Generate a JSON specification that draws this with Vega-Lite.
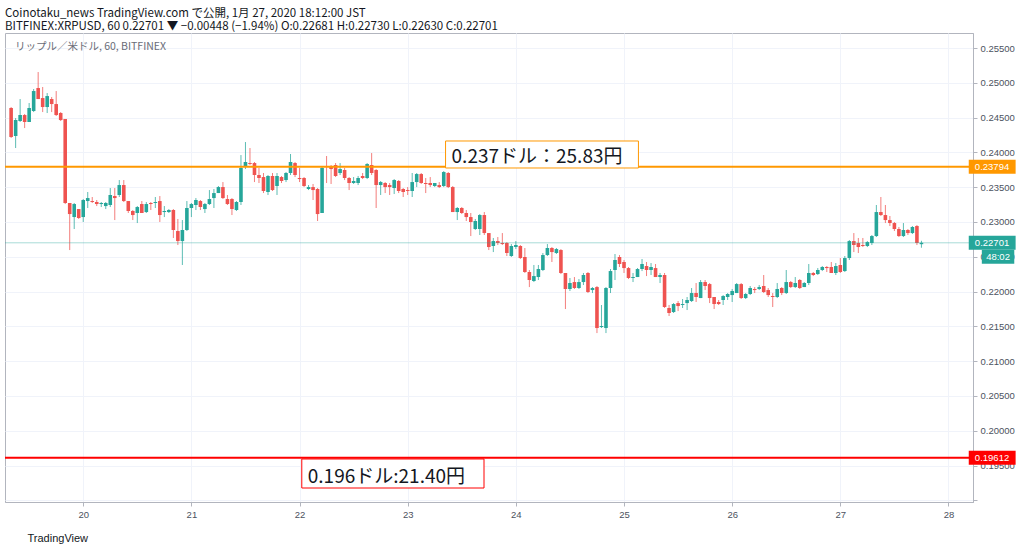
{
  "$schema": "https://vega.github.io/schema/vega-lite/v6.json",
  "width": 968,
  "height": 469,
  "autosize": {"type": "none"},
  "padding": {"left": 5, "top": 33, "right": 51, "bottom": 50},
  "background": "#ffffff",
  "title": {
    "text": "Coinotaku_news TradingView.com で公開, 1月 27, 2020 18:12:00 JST",
    "subtitle": "BITFINEX:XRPUSD, 60 0.22701 ▼ −0.00448 (−1.94%) O:0.22681 H:0.22730 L:0.22630 C:0.22701",
    "anchor": "start",
    "frame": "group",
    "font": "Noto Sans CJK JP",
    "fontSize": 11.5,
    "fontWeight": "normal",
    "color": "#131722",
    "subtitleFont": "Noto Sans CJK JP",
    "subtitleFontSize": 11.5,
    "subtitleColor": "#131722",
    "subtitlePadding": 1,
    "offset": 1
  },
  "datasets": {
    "candles": [
      {"t":"2020-01-19T08:00","o":0.24638,"h":0.24652,"l":0.24207,"c":0.24221},
      {"t":"2020-01-19T09:00","o":0.24235,"h":0.24494,"l":0.24063,"c":0.24465},
      {"t":"2020-01-19T10:00","o":0.24451,"h":0.24767,"l":0.24437,"c":0.24537},
      {"t":"2020-01-19T11:00","o":0.24537,"h":0.24552,"l":0.24350,"c":0.24437},
      {"t":"2020-01-19T12:00","o":0.24437,"h":0.24710,"l":0.24437,"c":0.24638},
      {"t":"2020-01-19T13:00","o":0.24595,"h":0.24911,"l":0.24580,"c":0.24882},
      {"t":"2020-01-19T14:00","o":0.24925,"h":0.25155,"l":0.24767,"c":0.24767},
      {"t":"2020-01-19T15:00","o":0.24781,"h":0.24940,"l":0.24580,"c":0.24652},
      {"t":"2020-01-19T16:00","o":0.24652,"h":0.24853,"l":0.24566,"c":0.24810},
      {"t":"2020-01-19T17:00","o":0.24767,"h":0.24796,"l":0.24580,"c":0.24695},
      {"t":"2020-01-19T18:00","o":0.24695,"h":0.24882,"l":0.24523,"c":0.24537},
      {"t":"2020-01-19T19:00","o":0.24566,"h":0.24580,"l":0.24451,"c":0.24465},
      {"t":"2020-01-19T20:00","o":0.24480,"h":0.24480,"l":0.23258,"c":0.23273},
      {"t":"2020-01-19T21:00","o":0.23273,"h":0.23273,"l":0.22597,"c":0.23114},
      {"t":"2020-01-19T22:00","o":0.23071,"h":0.23273,"l":0.22899,"c":0.23258},
      {"t":"2020-01-19T23:00","o":0.23186,"h":0.23186,"l":0.23043,"c":0.23057},
      {"t":"2020-01-20T00:00","o":0.23071,"h":0.23330,"l":0.23000,"c":0.23316},
      {"t":"2020-01-20T01:00","o":0.23301,"h":0.23431,"l":0.23201,"c":0.23344},
      {"t":"2020-01-20T02:00","o":0.23301,"h":0.23359,"l":0.23273,"c":0.23287},
      {"t":"2020-01-20T03:00","o":0.23287,"h":0.23316,"l":0.23229,"c":0.23258},
      {"t":"2020-01-20T04:00","o":0.23258,"h":0.23287,"l":0.23215,"c":0.23273},
      {"t":"2020-01-20T05:00","o":0.23229,"h":0.23287,"l":0.23186,"c":0.23273},
      {"t":"2020-01-20T06:00","o":0.23244,"h":0.23488,"l":0.23215,"c":0.23388},
      {"t":"2020-01-20T07:00","o":0.23373,"h":0.23488,"l":0.23028,"c":0.23344},
      {"t":"2020-01-20T08:00","o":0.23388,"h":0.23603,"l":0.23359,"c":0.23531},
      {"t":"2020-01-20T09:00","o":0.23531,"h":0.23603,"l":0.23287,"c":0.23301},
      {"t":"2020-01-20T10:00","o":0.23301,"h":0.23301,"l":0.23129,"c":0.23158},
      {"t":"2020-01-20T11:00","o":0.23158,"h":0.23172,"l":0.23028,"c":0.23100},
      {"t":"2020-01-20T12:00","o":0.23129,"h":0.23229,"l":0.22985,"c":0.23215},
      {"t":"2020-01-20T13:00","o":0.23258,"h":0.23301,"l":0.23129,"c":0.23129},
      {"t":"2020-01-20T14:00","o":0.23143,"h":0.23287,"l":0.23129,"c":0.23258},
      {"t":"2020-01-20T15:00","o":0.23273,"h":0.23287,"l":0.23172,"c":0.23258},
      {"t":"2020-01-20T16:00","o":0.23273,"h":0.23359,"l":0.23201,"c":0.23287},
      {"t":"2020-01-20T17:00","o":0.23301,"h":0.23373,"l":0.23000,"c":0.23100},
      {"t":"2020-01-20T18:00","o":0.23143,"h":0.23229,"l":0.23071,"c":0.23158},
      {"t":"2020-01-20T19:00","o":0.23143,"h":0.23186,"l":0.23129,"c":0.23172},
      {"t":"2020-01-20T20:00","o":0.23172,"h":0.23186,"l":0.22770,"c":0.22885},
      {"t":"2020-01-20T21:00","o":0.22870,"h":0.23043,"l":0.22669,"c":0.22726},
      {"t":"2020-01-20T22:00","o":0.22726,"h":0.23028,"l":0.22382,"c":0.22885},
      {"t":"2020-01-20T23:00","o":0.22885,"h":0.23301,"l":0.22870,"c":0.23201},
      {"t":"2020-01-21T00:00","o":0.23201,"h":0.23273,"l":0.23071,"c":0.23258},
      {"t":"2020-01-21T01:00","o":0.23244,"h":0.23344,"l":0.23172,"c":0.23316},
      {"t":"2020-01-21T02:00","o":0.23301,"h":0.23316,"l":0.23172,"c":0.23215},
      {"t":"2020-01-21T03:00","o":0.23186,"h":0.23273,"l":0.23129,"c":0.23258},
      {"t":"2020-01-21T04:00","o":0.23258,"h":0.23459,"l":0.23244,"c":0.23330},
      {"t":"2020-01-21T05:00","o":0.23344,"h":0.23474,"l":0.23201,"c":0.23416},
      {"t":"2020-01-21T06:00","o":0.23416,"h":0.23517,"l":0.23416,"c":0.23502},
      {"t":"2020-01-21T07:00","o":0.23502,"h":0.23574,"l":0.23330,"c":0.23344},
      {"t":"2020-01-21T08:00","o":0.23330,"h":0.23388,"l":0.23244,"c":0.23258},
      {"t":"2020-01-21T09:00","o":0.23330,"h":0.23344,"l":0.23100,"c":0.23186},
      {"t":"2020-01-21T10:00","o":0.23172,"h":0.23301,"l":0.23158,"c":0.23287},
      {"t":"2020-01-21T11:00","o":0.23287,"h":0.23962,"l":0.23244,"c":0.23776},
      {"t":"2020-01-21T12:00","o":0.23804,"h":0.24149,"l":0.23761,"c":0.23862},
      {"t":"2020-01-21T13:00","o":0.23847,"h":0.24063,"l":0.23819,"c":0.23833},
      {"t":"2020-01-21T14:00","o":0.23847,"h":0.23862,"l":0.23574,"c":0.23675},
      {"t":"2020-01-21T15:00","o":0.23675,"h":0.23776,"l":0.23560,"c":0.23632},
      {"t":"2020-01-21T16:00","o":0.23646,"h":0.23704,"l":0.23416,"c":0.23445},
      {"t":"2020-01-21T17:00","o":0.23431,"h":0.23675,"l":0.23388,"c":0.23661},
      {"t":"2020-01-21T18:00","o":0.23661,"h":0.23704,"l":0.23445,"c":0.23459},
      {"t":"2020-01-21T19:00","o":0.23517,"h":0.23704,"l":0.23388,"c":0.23661},
      {"t":"2020-01-21T20:00","o":0.23646,"h":0.23661,"l":0.23560,"c":0.23589},
      {"t":"2020-01-21T21:00","o":0.23603,"h":0.23718,"l":0.23574,"c":0.23704},
      {"t":"2020-01-21T22:00","o":0.23704,"h":0.23977,"l":0.23675,"c":0.23862},
      {"t":"2020-01-21T23:00","o":0.23847,"h":0.23862,"l":0.23646,"c":0.23675},
      {"t":"2020-01-22T00:00","o":0.23632,"h":0.23776,"l":0.23574,"c":0.23617},
      {"t":"2020-01-22T01:00","o":0.23632,"h":0.23646,"l":0.23502,"c":0.23517},
      {"t":"2020-01-22T02:00","o":0.23474,"h":0.23531,"l":0.23459,"c":0.23502},
      {"t":"2020-01-22T03:00","o":0.23502,"h":0.23546,"l":0.23316,"c":0.23459},
      {"t":"2020-01-22T04:00","o":0.23474,"h":0.23488,"l":0.23014,"c":0.23114},
      {"t":"2020-01-22T05:00","o":0.23129,"h":0.23790,"l":0.23129,"c":0.23776},
      {"t":"2020-01-22T06:00","o":0.23804,"h":0.23948,"l":0.23560,"c":0.23790},
      {"t":"2020-01-22T07:00","o":0.23790,"h":0.23819,"l":0.23546,"c":0.23761},
      {"t":"2020-01-22T08:00","o":0.23819,"h":0.23847,"l":0.23646,"c":0.23661},
      {"t":"2020-01-22T09:00","o":0.23704,"h":0.23847,"l":0.23675,"c":0.23761},
      {"t":"2020-01-22T10:00","o":0.23747,"h":0.23776,"l":0.23603,"c":0.23632},
      {"t":"2020-01-22T11:00","o":0.23632,"h":0.23646,"l":0.23459,"c":0.23560},
      {"t":"2020-01-22T12:00","o":0.23560,"h":0.23646,"l":0.23546,"c":0.23589},
      {"t":"2020-01-22T13:00","o":0.23560,"h":0.23661,"l":0.23531,"c":0.23632},
      {"t":"2020-01-22T14:00","o":0.23661,"h":0.23704,"l":0.23617,"c":0.23632},
      {"t":"2020-01-22T15:00","o":0.23632,"h":0.23847,"l":0.23617,"c":0.23833},
      {"t":"2020-01-22T16:00","o":0.23819,"h":0.23991,"l":0.23675,"c":0.23704},
      {"t":"2020-01-22T17:00","o":0.23747,"h":0.23761,"l":0.23201,"c":0.23531},
      {"t":"2020-01-22T18:00","o":0.23531,"h":0.23589,"l":0.23388,"c":0.23574},
      {"t":"2020-01-22T19:00","o":0.23560,"h":0.23574,"l":0.23416,"c":0.23502},
      {"t":"2020-01-22T20:00","o":0.23531,"h":0.23560,"l":0.23388,"c":0.23502},
      {"t":"2020-01-22T21:00","o":0.23488,"h":0.23617,"l":0.23402,"c":0.23603},
      {"t":"2020-01-22T22:00","o":0.23589,"h":0.23603,"l":0.23416,"c":0.23445},
      {"t":"2020-01-22T23:00","o":0.23474,"h":0.23488,"l":0.23359,"c":0.23431},
      {"t":"2020-01-23T00:00","o":0.23459,"h":0.23502,"l":0.23388,"c":0.23445},
      {"t":"2020-01-23T01:00","o":0.23445,"h":0.23704,"l":0.23359,"c":0.23574},
      {"t":"2020-01-23T02:00","o":0.23574,"h":0.23704,"l":0.23502,"c":0.23689},
      {"t":"2020-01-23T03:00","o":0.23689,"h":0.23704,"l":0.23546,"c":0.23560},
      {"t":"2020-01-23T04:00","o":0.23560,"h":0.23632,"l":0.23416,"c":0.23546},
      {"t":"2020-01-23T05:00","o":0.23560,"h":0.23646,"l":0.23502,"c":0.23531},
      {"t":"2020-01-23T06:00","o":0.23517,"h":0.23560,"l":0.23502,"c":0.23560},
      {"t":"2020-01-23T07:00","o":0.23531,"h":0.23574,"l":0.23488,"c":0.23502},
      {"t":"2020-01-23T08:00","o":0.23517,"h":0.23732,"l":0.23502,"c":0.23718},
      {"t":"2020-01-23T09:00","o":0.23704,"h":0.23718,"l":0.23488,"c":0.23502},
      {"t":"2020-01-23T10:00","o":0.23502,"h":0.23517,"l":0.23143,"c":0.23143},
      {"t":"2020-01-23T11:00","o":0.23143,"h":0.23215,"l":0.23028,"c":0.23201},
      {"t":"2020-01-23T12:00","o":0.23201,"h":0.23215,"l":0.23114,"c":0.23129},
      {"t":"2020-01-23T13:00","o":0.23129,"h":0.23172,"l":0.23014,"c":0.23071},
      {"t":"2020-01-23T14:00","o":0.23071,"h":0.23129,"l":0.22798,"c":0.23000},
      {"t":"2020-01-23T15:00","o":0.22899,"h":0.23043,"l":0.22885,"c":0.23014},
      {"t":"2020-01-23T16:00","o":0.22899,"h":0.23114,"l":0.22813,"c":0.23100},
      {"t":"2020-01-23T17:00","o":0.23100,"h":0.23143,"l":0.22813,"c":0.22841},
      {"t":"2020-01-23T18:00","o":0.22841,"h":0.22841,"l":0.22597,"c":0.22640},
      {"t":"2020-01-23T19:00","o":0.22655,"h":0.22770,"l":0.22568,"c":0.22726},
      {"t":"2020-01-23T20:00","o":0.22726,"h":0.22784,"l":0.22669,"c":0.22698},
      {"t":"2020-01-23T21:00","o":0.22698,"h":0.22841,"l":0.22669,"c":0.22683},
      {"t":"2020-01-23T22:00","o":0.22698,"h":0.22712,"l":0.22511,"c":0.22554},
      {"t":"2020-01-23T23:00","o":0.22511,"h":0.22683,"l":0.22497,"c":0.22655},
      {"t":"2020-01-24T00:00","o":0.22640,"h":0.22726,"l":0.22611,"c":0.22669},
      {"t":"2020-01-24T01:00","o":0.22655,"h":0.22669,"l":0.22468,"c":0.22482},
      {"t":"2020-01-24T02:00","o":0.22497,"h":0.22626,"l":0.22267,"c":0.22281},
      {"t":"2020-01-24T03:00","o":0.22281,"h":0.22310,"l":0.22065,"c":0.22166},
      {"t":"2020-01-24T04:00","o":0.22152,"h":0.22382,"l":0.22137,"c":0.22223},
      {"t":"2020-01-24T05:00","o":0.22209,"h":0.22382,"l":0.22166,"c":0.22324},
      {"t":"2020-01-24T06:00","o":0.22310,"h":0.22554,"l":0.22295,"c":0.22525},
      {"t":"2020-01-24T07:00","o":0.22525,"h":0.22683,"l":0.22511,"c":0.22626},
      {"t":"2020-01-24T08:00","o":0.22626,"h":0.22640,"l":0.22425,"c":0.22568},
      {"t":"2020-01-24T09:00","o":0.22554,"h":0.22626,"l":0.22540,"c":0.22611},
      {"t":"2020-01-24T10:00","o":0.22597,"h":0.22611,"l":0.22252,"c":0.22267},
      {"t":"2020-01-24T11:00","o":0.22267,"h":0.22267,"l":0.21749,"c":0.22037},
      {"t":"2020-01-24T12:00","o":0.22037,"h":0.22195,"l":0.22008,"c":0.22123},
      {"t":"2020-01-24T13:00","o":0.22137,"h":0.22209,"l":0.22037,"c":0.22051},
      {"t":"2020-01-24T14:00","o":0.22051,"h":0.22180,"l":0.22037,"c":0.22137},
      {"t":"2020-01-24T15:00","o":0.22137,"h":0.22267,"l":0.22094,"c":0.22238},
      {"t":"2020-01-24T16:00","o":0.22267,"h":0.22281,"l":0.21979,"c":0.21994},
      {"t":"2020-01-24T17:00","o":0.22022,"h":0.22065,"l":0.21979,"c":0.22051},
      {"t":"2020-01-24T18:00","o":0.22065,"h":0.22080,"l":0.21404,"c":0.21476},
      {"t":"2020-01-24T19:00","o":0.21490,"h":0.21807,"l":0.21476,"c":0.21505},
      {"t":"2020-01-24T20:00","o":0.21476,"h":0.22065,"l":0.21404,"c":0.22051},
      {"t":"2020-01-24T21:00","o":0.22051,"h":0.22324,"l":0.21979,"c":0.22295},
      {"t":"2020-01-24T22:00","o":0.22310,"h":0.22540,"l":0.22166,"c":0.22454},
      {"t":"2020-01-24T23:00","o":0.22497,"h":0.22525,"l":0.22353,"c":0.22396},
      {"t":"2020-01-25T00:00","o":0.22425,"h":0.22454,"l":0.22267,"c":0.22338},
      {"t":"2020-01-25T01:00","o":0.22338,"h":0.22353,"l":0.22180,"c":0.22195},
      {"t":"2020-01-25T02:00","o":0.22195,"h":0.22267,"l":0.22137,"c":0.22209},
      {"t":"2020-01-25T03:00","o":0.22209,"h":0.22338,"l":0.22209,"c":0.22324},
      {"t":"2020-01-25T04:00","o":0.22324,"h":0.22468,"l":0.22295,"c":0.22396},
      {"t":"2020-01-25T05:00","o":0.22367,"h":0.22425,"l":0.22223,"c":0.22310},
      {"t":"2020-01-25T06:00","o":0.22310,"h":0.22410,"l":0.22238,"c":0.22353},
      {"t":"2020-01-25T07:00","o":0.22338,"h":0.22396,"l":0.22209,"c":0.22209},
      {"t":"2020-01-25T08:00","o":0.22209,"h":0.22267,"l":0.22123,"c":0.22238},
      {"t":"2020-01-25T09:00","o":0.22238,"h":0.22267,"l":0.21764,"c":0.21778},
      {"t":"2020-01-25T10:00","o":0.21764,"h":0.21807,"l":0.21649,"c":0.21692},
      {"t":"2020-01-25T11:00","o":0.21706,"h":0.21835,"l":0.21692,"c":0.21821},
      {"t":"2020-01-25T12:00","o":0.21835,"h":0.21864,"l":0.21720,"c":0.21792},
      {"t":"2020-01-25T13:00","o":0.21807,"h":0.21893,"l":0.21764,"c":0.21821},
      {"t":"2020-01-25T14:00","o":0.21835,"h":0.21922,"l":0.21735,"c":0.21879},
      {"t":"2020-01-25T15:00","o":0.21864,"h":0.22051,"l":0.21850,"c":0.21979},
      {"t":"2020-01-25T16:00","o":0.21979,"h":0.22123,"l":0.21850,"c":0.21922},
      {"t":"2020-01-25T17:00","o":0.21907,"h":0.22166,"l":0.21907,"c":0.22137},
      {"t":"2020-01-25T18:00","o":0.22137,"h":0.22166,"l":0.22022,"c":0.22080},
      {"t":"2020-01-25T19:00","o":0.22108,"h":0.22123,"l":0.21835,"c":0.21907},
      {"t":"2020-01-25T20:00","o":0.21922,"h":0.21922,"l":0.21749,"c":0.21821},
      {"t":"2020-01-25T21:00","o":0.21850,"h":0.21879,"l":0.21807,"c":0.21821},
      {"t":"2020-01-25T22:00","o":0.21879,"h":0.21950,"l":0.21807,"c":0.21936},
      {"t":"2020-01-25T23:00","o":0.21922,"h":0.21979,"l":0.21879,"c":0.21965},
      {"t":"2020-01-26T00:00","o":0.21950,"h":0.22037,"l":0.21850,"c":0.22008},
      {"t":"2020-01-26T01:00","o":0.21979,"h":0.22123,"l":0.21979,"c":0.22108},
      {"t":"2020-01-26T02:00","o":0.22108,"h":0.22123,"l":0.21893,"c":0.21907},
      {"t":"2020-01-26T03:00","o":0.21907,"h":0.21979,"l":0.21893,"c":0.21965},
      {"t":"2020-01-26T04:00","o":0.21965,"h":0.22080,"l":0.21950,"c":0.22051},
      {"t":"2020-01-26T05:00","o":0.22037,"h":0.22065,"l":0.21979,"c":0.22022},
      {"t":"2020-01-26T06:00","o":0.22037,"h":0.22094,"l":0.22022,"c":0.22065},
      {"t":"2020-01-26T07:00","o":0.22080,"h":0.22238,"l":0.21979,"c":0.21994},
      {"t":"2020-01-26T08:00","o":0.22022,"h":0.22051,"l":0.21922,"c":0.21950},
      {"t":"2020-01-26T09:00","o":0.21936,"h":0.21979,"l":0.21778,"c":0.21922},
      {"t":"2020-01-26T10:00","o":0.21922,"h":0.22123,"l":0.21907,"c":0.22037},
      {"t":"2020-01-26T11:00","o":0.22051,"h":0.22065,"l":0.21950,"c":0.21979},
      {"t":"2020-01-26T12:00","o":0.21979,"h":0.22310,"l":0.21965,"c":0.22137},
      {"t":"2020-01-26T13:00","o":0.22137,"h":0.22152,"l":0.22051,"c":0.22065},
      {"t":"2020-01-26T14:00","o":0.22065,"h":0.22209,"l":0.22051,"c":0.22123},
      {"t":"2020-01-26T15:00","o":0.22166,"h":0.22180,"l":0.22037,"c":0.22051},
      {"t":"2020-01-26T16:00","o":0.22065,"h":0.22137,"l":0.22065,"c":0.22123},
      {"t":"2020-01-26T17:00","o":0.22123,"h":0.22396,"l":0.22094,"c":0.22267},
      {"t":"2020-01-26T18:00","o":0.22267,"h":0.22281,"l":0.22223,"c":0.22238},
      {"t":"2020-01-26T19:00","o":0.22252,"h":0.22338,"l":0.22238,"c":0.22310},
      {"t":"2020-01-26T20:00","o":0.22310,"h":0.22367,"l":0.22295,"c":0.22353},
      {"t":"2020-01-26T21:00","o":0.22353,"h":0.22367,"l":0.22281,"c":0.22338},
      {"t":"2020-01-26T22:00","o":0.22353,"h":0.22425,"l":0.22267,"c":0.22267},
      {"t":"2020-01-26T23:00","o":0.22267,"h":0.22410,"l":0.22238,"c":0.22367},
      {"t":"2020-01-27T00:00","o":0.22382,"h":0.22482,"l":0.22267,"c":0.22281},
      {"t":"2020-01-27T01:00","o":0.22295,"h":0.22511,"l":0.22281,"c":0.22482},
      {"t":"2020-01-27T02:00","o":0.22482,"h":0.22741,"l":0.22454,"c":0.22726},
      {"t":"2020-01-27T03:00","o":0.22726,"h":0.22841,"l":0.22568,"c":0.22669},
      {"t":"2020-01-27T04:00","o":0.22698,"h":0.22770,"l":0.22554,"c":0.22640},
      {"t":"2020-01-27T05:00","o":0.22669,"h":0.22770,"l":0.22640,"c":0.22655},
      {"t":"2020-01-27T06:00","o":0.22655,"h":0.22726,"l":0.22640,"c":0.22712},
      {"t":"2020-01-27T07:00","o":0.22698,"h":0.22813,"l":0.22669,"c":0.22798},
      {"t":"2020-01-27T08:00","o":0.22798,"h":0.23244,"l":0.22784,"c":0.23143},
      {"t":"2020-01-27T09:00","o":0.23143,"h":0.23359,"l":0.23086,"c":0.23100},
      {"t":"2020-01-27T10:00","o":0.23100,"h":0.23244,"l":0.22985,"c":0.23028},
      {"t":"2020-01-27T11:00","o":0.23028,"h":0.23086,"l":0.22942,"c":0.22985},
      {"t":"2020-01-27T12:00","o":0.22985,"h":0.23000,"l":0.22870,"c":0.22899},
      {"t":"2020-01-27T13:00","o":0.22899,"h":0.22928,"l":0.22784,"c":0.22798},
      {"t":"2020-01-27T14:00","o":0.22798,"h":0.22985,"l":0.22784,"c":0.22885},
      {"t":"2020-01-27T15:00","o":0.22885,"h":0.22899,"l":0.22813,"c":0.22841},
      {"t":"2020-01-27T16:00","o":0.22841,"h":0.22942,"l":0.22827,"c":0.22928},
      {"t":"2020-01-27T17:00","o":0.22942,"h":0.22956,"l":0.22669,"c":0.22698},
      {"t":"2020-01-27T18:00","o":0.22681,"h":0.22730,"l":0.22630,"c":0.22701}
    ],
    "levels": [
      {"level": "resistance", "price": 0.23794, "label": "0.23794"},
      {"level": "current", "price": 0.22701, "label": "0.22701"},
      {"level": "support", "price": 0.19612, "label": "0.19612"}
    ],
    "notes": [
      {"level": "resistance", "label": "0.237ドル：25.83円", "t1": "2020-01-23T08:24", "t2": "2020-01-25T03:12", "top": 0.24164, "bottom": 0.23776},
      {"level": "support", "label": "0.196ドル:21.40円", "t1": "2020-01-22T00:30", "t2": "2020-01-23T16:56", "top": 0.19594, "bottom": 0.19177}
    ]
  },
  "layer": [
    {
      "data": {"name": "candles"},
      "mark": {"type": "rule", "strokeWidth": 1, "opacity": 0.75},
      "encoding": {
        "x": {
          "field": "t",
          "type": "temporal",
          "scale": {
            "domain": [
              {"year": 2020, "month": 1, "date": 19, "hours": 7, "minutes": 45},
              {"year": 2020, "month": 1, "date": 28, "hours": 4, "minutes": 20}
            ]
          },
          "axis": {
            "title": "TradingView",
            "tickCount": {"interval": "day", "step": 1},
            "format": "%-d",
            "formatType": "time",
            "grid": true,
            "gridColor": "#f0f3fa",
            "domainColor": "#b2b5be",
            "tickColor": "#b2b5be",
            "tickSize": 4,
            "labelColor": "#4c525e",
            "labelFont": "Liberation Sans",
            "labelFontSize": 9.5,
            "labelPadding": 3,
            "labelFlush": false,
            "titleAnchor": "start",
            "titleAlign": "left",
            "titleBaseline": "middle",
            "titleX": 22,
            "titleY": 36,
            "titleFont": "Liberation Sans",
            "titleFontSize": 11,
            "titleFontWeight": "normal",
            "titleColor": "#131722"
          }
        },
        "y": {
          "field": "l",
          "type": "quantitative",
          "scale": {"domain": [0.18976, 0.25716], "nice": false, "zero": false},
          "axis": {
            "orient": "right",
            "title": null,
            "tickCount": 14,
            "labelExpr": "datum.value < 0.192 ? '' : format(datum.value, '.5f')",
            "labelOverlap": false,
            "grid": true,
            "gridColor": "#f0f3fa",
            "domainColor": "#b2b5be",
            "tickColor": "#b2b5be",
            "tickSize": 4,
            "labelColor": "#4c525e",
            "labelFont": "Liberation Sans",
            "labelFontSize": 9.5,
            "labelPadding": 3
          }
        },
        "y2": {"field": "h"},
        "color": {"condition": {"test": "datum.c >= datum.o", "value": "#26A69A"}, "value": "#EF5350"}
      }
    },
    {
      "data": {"name": "candles"},
      "mark": {"type": "bar", "width": 3.6},
      "encoding": {
        "x": {"field": "t", "type": "temporal"},
        "y": {"field": "o", "type": "quantitative"},
        "y2": {"field": "c"},
        "color": {"condition": {"test": "datum.c >= datum.o", "value": "#26A69A"}, "value": "#EF5350"}
      }
    },
    {
      "data": {"name": "levels"},
      "mark": {"type": "rule"},
      "encoding": {
        "y": {"field": "price", "type": "quantitative"},
        "color": {
          "field": "level",
          "type": "nominal",
          "scale": {"domain": ["resistance", "current", "support"], "range": ["#FF9800", "#26A69A", "#FF0000"]},
          "legend": null
        },
        "strokeWidth": {"condition": {"test": "datum.level === 'current'", "value": 1}, "value": 2},
        "opacity": {"condition": {"test": "datum.level === 'current'", "value": 0.4}, "value": 1}
      }
    },
    {
      "data": {"name": "notes"},
      "mark": {"type": "rect", "fill": "#ffffff", "strokeWidth": 1},
      "encoding": {
        "x": {"field": "t1", "type": "temporal"},
        "x2": {"field": "t2"},
        "y": {"field": "top", "type": "quantitative"},
        "y2": {"field": "bottom"},
        "stroke": {"field": "level", "type": "nominal", "scale": {"domain": ["resistance", "current", "support"], "range": ["#FF9800", "#26A69A", "#FF0000"]}, "legend": null}
      }
    },
    {
      "data": {"name": "notes"},
      "mark": {"type": "text", "align": "left", "baseline": "alphabetic", "dx": 6, "dy": -5, "font": "Noto Sans CJK JP", "fontSize": 19, "color": "#131722"},
      "encoding": {
        "x": {"field": "t1", "type": "temporal"},
        "y": {"field": "bottom", "type": "quantitative"},
        "text": {"field": "label"}
      }
    },
    {
      "data": {"name": "levels"},
      "mark": {"type": "rule", "strokeWidth": 14, "strokeCap": "butt"},
      "encoding": {
        "x": {"datum": {"year": 2020, "month": 1, "date": 28, "hours": 4, "minutes": 30}, "type": "temporal"},
        "x2": {"datum": {"year": 2020, "month": 1, "date": 28, "hours": 14, "minutes": 54}},
        "y": {"field": "price", "type": "quantitative"},
        "color": {"field": "level", "type": "nominal", "legend": null}
      }
    },
    {
      "data": {"name": "levels"},
      "mark": {"type": "text", "align": "center", "baseline": "middle", "font": "Liberation Sans", "fontSize": 9.5, "color": "#ffffff"},
      "encoding": {
        "x": {"datum": {"year": 2020, "month": 1, "date": 28, "hours": 9, "minutes": 40}, "type": "temporal"},
        "y": {"field": "price", "type": "quantitative"},
        "text": {"field": "label"}
      }
    },
    {
      "data": {"values": [{"label": "48:02"}]},
      "mark": {"type": "rule", "strokeWidth": 14, "strokeCap": "butt", "color": "#26A69A"},
      "encoding": {
        "x": {"datum": {"year": 2020, "month": 1, "date": 28, "hours": 7, "minutes": 24}, "type": "temporal"},
        "x2": {"datum": {"year": 2020, "month": 1, "date": 28, "hours": 14, "minutes": 36}},
        "y": {"datum": 0.225, "type": "quantitative"}
      }
    },
    {
      "data": {"values": [{"label": "48:02"}]},
      "mark": {"type": "text", "align": "center", "baseline": "middle", "font": "Liberation Sans", "fontSize": 9.5, "color": "#ffffff"},
      "encoding": {
        "x": {"datum": {"year": 2020, "month": 1, "date": 28, "hours": 11, "minutes": 0}, "type": "temporal"},
        "y": {"datum": 0.225, "type": "quantitative"},
        "text": {"field": "label"}
      }
    },
    {
      "data": {"values": [{"label": "リップル／米ドル, 60, BITFINEX"}]},
      "mark": {"type": "text", "align": "left", "baseline": "middle", "font": "Noto Sans CJK JP", "fontSize": 10.5, "color": "#6a6d78"},
      "encoding": {
        "x": {"datum": {"year": 2020, "month": 1, "date": 19, "hours": 8, "minutes": 50}, "type": "temporal"},
        "y": {"datum": 0.2551, "type": "quantitative"},
        "text": {"field": "label"}
      }
    }
  ],
  "config": {
    "view": {"stroke": "#b2b5be"}
  }
}
